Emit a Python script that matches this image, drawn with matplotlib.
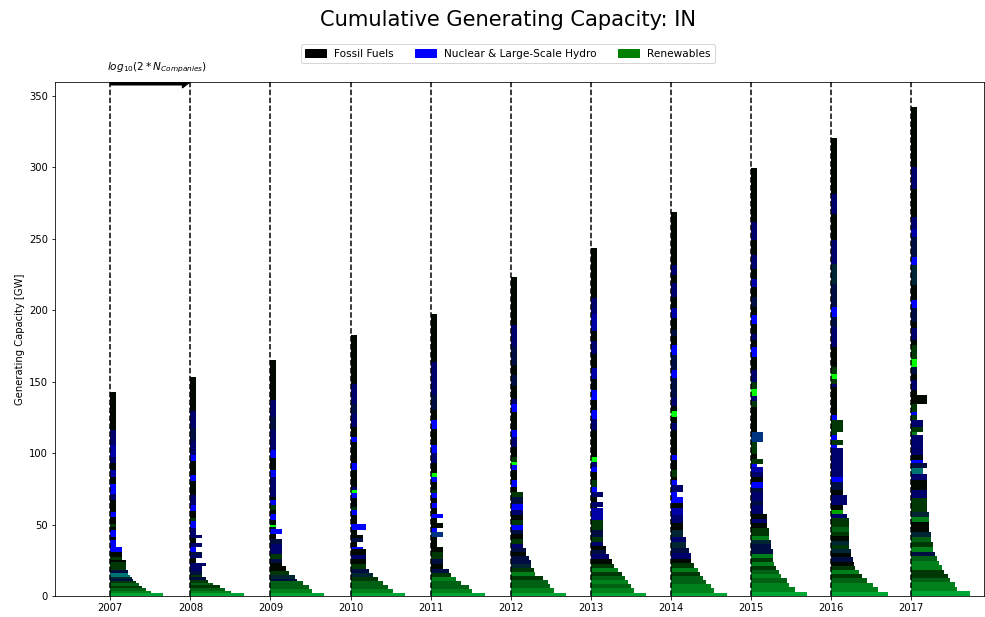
import numpy as np
import matplotlib
matplotlib.use('Agg')
import matplotlib.pyplot as plt
from matplotlib.patches import Patch

years = [2007, 2008, 2009, 2010, 2011, 2012, 2013, 2014, 2015, 2016, 2017]

# Fuel mix codes -> (nuclear & large hydro share, renewables share); rest is fossil
mix_shares = {
    'k': (0.00, 0.03),
    'g': (0.02, 0.22),
    'G': (0.08, 0.38),
    'M': (0.10, 0.50),
    'L': (0.20, 0.65),
    'H': (0.00, 0.65),
    'l': (0.00, 1.00),
    'd': (0.25, 0.05),
    'n': (0.42, 0.00),
    'B': (0.65, 0.00),
    'b': (1.00, 0.00),
    't': (0.45, 0.45),
    'e': (0.20, 0.15),
    'o': (0.50, 0.20),
}

# Each bar (bottom -> top): capacity [GW], number of companies in it, fuel mix code
cap_2007 = [1.9, 1.9, 1.6, 1.6, 1.9, 1.6, 1.4, 1.6, 1.2, 1.6, 1.9, 3.5, 2.3, 1.2, 2.3, 3.5, 3.5, 4.6,
            2.3, 4.7, 2.3, 2.3, 4.7, 3.5, 8.0, 4.7, 7.0, 4.7, 4.7, 4.7, 4.7, 8.0, 10.5, 26.8]
nco_2007 = [218, 55, 29, 20, 13, 10, 7, 6, 5, 4, 4, 3, 3, 3, 2, 2, 2, 1,
            1, 1, 1, 1, 1, 1, 1, 1, 1, 1, 1, 1, 1, 1, 1, 1]
mix_2007 = "LMGgGgdettdggkgkbb" "kbkgkbknbkBknBnk"

cap_2008 = [1.9, 1.9, 1.9, 1.9, 1.8, 1.8, 1.9, 1.8, 2.3, 3.5, 2.3, 3.5, 2.3, 2.3, 3.5, 2.3, 4.0, 1.9,
            4.7, 4.7, 2.3, 4.7, 4.7, 7.0, 9.3, 4.7, 9.3, 4.7, 9.3, 9.3, 11.6, 24.0]
nco_2008 = [240, 55, 26, 15, 7, 4, 3, 2, 2, 2, 3, 1, 2, 2, 1, 2, 1, 2,
            1, 1, 1, 1, 1, 1, 1, 1, 1, 1, 1, 1, 1, 1]
mix_2008 = "LMGgGgdg" "dnnkndbnkn" "nbgkbnkbkbndnk"

cap_2009 = [2.3, 2.3, 3.0, 3.0, 1.6, 2.3, 3.0, 3.3, 2.6, 2.8, 3.5, 3.5, 3.5, 3.5, 3.0, 3.5,
            1.6, 1.2, 3.5, 4.7, 2.3, 3.5, 3.5, 2.3, 14.0, 4.7, 8.2, 5.8, 14.0, 9.3, 11.6, 28.4]
nco_2009 = [250, 60, 40, 22, 11, 8, 4, 3, 2, 2, 2, 2, 2, 2, 1, 2,
            1, 1, 1, 1, 1, 1, 1, 1, 1, 1, 1, 1, 1, 1, 1, 1]
mix_2009 = "LMGGdegkkdgnndkb" "dlkbkgbknbkbndnk"

cap_2010 = [2.3, 2.3, 3.0, 3.0, 2.8, 2.8, 3.0, 3.5, 3.5, 2.8, 3.7, 1.9, 3.5, 2.3, 2.3, 3.5, 4.2,
            6.3, 3.5, 2.3, 5.8, 3.5, 2.3, 2.3, 11.6, 4.7, 15.0, 3.5, 7.0, 9.3, 7.0, 14.0, 34.0]
nco_2010 = [250, 65, 36, 22, 12, 7, 4, 3, 3, 3, 3, 2, 1, 2, 2, 1, 3,
            1, 1, 1, 1, 1, 1, 1, 1, 1, 1, 1, 1, 1, 1, 1, 1]
mix_2010 = "LMGGgedgknkbkdkkb" "kbgkblnkbkbkndnk"

cap_2011 = [2.3, 2.3, 3.0, 3.0, 2.8, 2.8, 3.0, 3.5, 3.5, 4.7, 3.5, 4.7, 1.9, 4.0, 2.3, 3.5, 3.5, 2.8,
            4.2, 3.5, 3.5, 3.5, 2.3, 5.8, 3.5, 2.3, 7.0, 7.0, 5.8, 11.6, 5.8, 7.0, 10.5, 10.5, 12.8, 33.4]
nco_2011 = [260, 60, 40, 16, 9, 5, 4, 2, 2, 2, 2, 1, 1, 2, 1, 2, 1, 2,
            1, 1, 1, 1, 1, 1, 1, 1, 1, 1, 1, 1, 1, 1, 1, 1, 1, 1]
mix_2011 = "LMGGMgdkdgkkkobkkb" "kbkbgkblknbkbkdnnk"

cap_2012 = [2.3, 3.0, 3.0, 2.8, 2.8, 3.0, 3.0, 2.8, 2.3, 2.8, 3.0, 3.0, 2.8, 3.5, 3.5, 2.8, 3.0, 3.5,
            3.5, 3.5, 4.7, 4.7, 3.5,
            3.5, 4.7, 7.0, 3.5, 2.3, 3.5, 7.0, 7.0, 4.7, 12.8, 5.8, 3.5, 9.0, 7.3, 7.0, 12.6, 15.4, 34.0]
nco_2012 = [290, 70, 45, 36, 20, 8, 7, 5, 5, 4, 3, 3, 2, 2, 2, 2, 2, 2, 2, 2, 2, 2, 2,
            1, 1, 1, 1, 1, 1, 1, 1, 1, 1, 1, 1, 1, 1, 1, 1, 1, 1]
mix_2012 = "LMGGgMgeddkdngkdbgknbdg" "kbkblgknbkbnkdkdnk"

cap_2013 = [2.3, 3.0, 3.0, 2.8, 2.8, 3.0, 3.0, 2.8, 3.5, 3.0, 2.8, 2.8, 3.0, 3.5, 4.7, 3.5, 3.5, 8.2,
            1.2, 3.5, 3.5, 3.5,
            3.5, 4.7, 5.8, 3.5, 3.5, 3.5, 18.6, 8.0, 5.8, 7.0, 7.0, 8.0, 8.0, 9.3, 9.3, 7.0, 11.9, 11.4, 35.0]
nco_2013 = [300, 75, 52, 36, 25, 18, 12, 7, 6, 4, 3, 3, 2, 2, 2, 2, 2, 2, 1, 2, 1, 2,
            1, 1, 1, 1, 1, 1, 1, 1, 1, 1, 1, 1, 1, 1, 1, 1, 1, 1, 1]
mix_2013 = "LMGMGgMgkndkngdggBknkn" "bgkbnlknbkbkBknkBnk"

cap_2014 = [2.3, 3.0, 3.0, 2.8, 2.8, 3.0, 3.0, 3.3, 3.0, 4.0, 3.7, 4.0, 3.5, 4.7, 4.7, 5.8, 4.7, 3.5,
            4.7, 3.5, 4.7,
            3.5, 2.3, 4.7, 7.0, 3.5, 17.5, 4.7, 4.2, 4.0, 3.5, 5.8, 14.0, 5.8, 10.5, 7.0, 5.8, 4.7, 8.4,
            7.0, 7.7, 9.8, 5.6, 7.0, 37.0]
nco_2014 = [310, 70, 48, 27, 20, 14, 12, 7, 5, 5, 4, 3, 3, 2, 2, 2, 2, 2, 2, 1, 2,
            1, 1, 1, 1, 1, 1, 1, 1, 1, 1, 1, 1, 1, 1, 1, 1, 1, 1, 1, 1, 1, 1, 1, 1]
mix_2014 = "LMMGGgMgkndeneknBkbbn" "bkgkbknklkndbdbkdkBknknk"

cap_2015 = [3.0, 3.5, 2.8, 3.0, 3.0, 2.8, 3.0, 2.8, 3.0, 2.8, 3.5, 3.0, 2.8, 2.8, 3.0, 3.0, 3.3, 3.0,
            3.0, 3.3, 3.0, 3.0, 2.8, 3.5, 3.0, 4.0, 3.5, 3.5, 3.5, 2.3, 3.5, 3.5,
            8.0, 7.0, 17.5, 4.7, 3.5, 4.7, 4.7, 8.2, 9.3, 7.0, 4.7, 4.7, 7.0, 5.8, 5.8, 7.0, 7.0, 5.8,
            7.0, 9.3, 10.5, 12.8, 38.0]
nco_2015 = [330, 80, 42, 30, 16, 12, 9, 7, 6, 6, 6, 5, 5, 4, 4, 4, 3, 3, 3, 2, 2, 2, 2, 2, 2, 2, 2,
            2, 2, 1, 2, 1,
            1, 2, 1, 1, 1, 1, 1, 1, 1, 1, 1, 1, 1, 1, 1, 1, 1, 1, 1, 1, 1, 1, 1]
mix_2015 = "LMMGMGgMgMddeMggknknndnndbknBbgk" "gokgnlgnkbknkbkdkBknknk"

cap_2016 = [3.0, 3.5, 2.8, 3.0, 3.0, 2.8, 3.0, 3.0, 3.0, 2.8, 2.8, 3.0, 3.0, 3.3, 3.0, 3.0, 3.3, 3.0,
            3.0, 2.8, 3.5, 3.0, 4.0, 3.5, 2.3, 3.5, 3.5, 3.5, 3.5, 3.5, 3.5,
            5.8, 2.3, 3.5, 3.5, 2.3, 8.2, 3.5, 19.8, 2.3, 3.5, 3.5, 4.7, 14.0, 14.0, 7.0, 7.0, 16.2,
            14.0, 16.3, 18.6, 14.0, 39.0]
nco_2016 = [350, 105, 60, 30, 18, 13, 8, 7, 6, 5, 5, 4, 4, 4, 4, 4, 4, 4, 3, 2, 2, 3, 3, 2, 2, 2,
            2, 2, 2, 2, 2,
            2, 1, 2, 1, 1, 2, 1, 1, 1, 1, 1, 1, 1, 1, 1, 1, 1, 1, 1, 1, 1, 1]
mix_2016 = "LMMGgMgkdkegekgGggnHknnkddbnnnn" "nbgbggbknglgkndbdenknk"

cap_2017 = [3.7, 2.8, 3.0, 2.8, 3.0, 2.8, 3.5, 2.8, 3.5, 3.0, 3.5, 3.5, 3.5, 3.5, 3.5, 3.5, 3.5, 3.5,
            3.5, 5.8, 5.8, 7.0, 4.2, 4.0, 3.5, 2.3, 3.5, 5.8, 8.2, 2.3, 3.5, 4.7, 3.5, 2.3, 2.3, 3.5,
            5.8, 3.5, 7.0,
            4.7, 4.7, 5.8, 9.3, 3.5, 8.2, 4.7, 9.3, 5.8, 10.5, 14.0, 5.8, 14.0, 5.8, 8.2, 19.8, 15.1, 42.0]
nco_2017 = [440, 100, 75, 45, 35, 23, 18, 12, 10, 8, 6, 6, 5, 5, 4, 4, 4, 4, 3, 3, 3, 3, 3, 2, 3,
            2, 2, 2, 2, 1, 2, 2, 1, 1, 1, 1, 3, 1, 1,
            1, 1, 1, 1, 1, 1, 1, 1, 1, 1, 1, 1, 1, 1, 1, 1, 1, 1]
mix_2017 = "LMMGggMMGdMgGekkMeggnkntdbknnMgngbggkkn" "kdlgknkdbkebdBnknk"

data = {
    2007: (cap_2007, nco_2007, mix_2007),
    2008: (cap_2008, nco_2008, mix_2008),
    2009: (cap_2009, nco_2009, mix_2009),
    2010: (cap_2010, nco_2010, mix_2010),
    2011: (cap_2011, nco_2011, mix_2011),
    2012: (cap_2012, nco_2012, mix_2012),
    2013: (cap_2013, nco_2013, mix_2013),
    2014: (cap_2014, nco_2014, mix_2014),
    2015: (cap_2015, nco_2015, mix_2015),
    2016: (cap_2016, nco_2016, mix_2016),
    2017: (cap_2017, nco_2017, mix_2017),
}

# bar width in years per decade of log10(2*N)
x_scale = 0.25

fig = plt.figure(figsize=(985 / 72, 617 / 72), dpi=72)
ax = fig.add_axes([55 / 985, 21 / 617, 929 / 985, 514 / 617])

for yr in years:
    caps, ncos, mix = data[yr]
    assert len(caps) == len(ncos) == len(mix), yr
    caps = np.array(caps)
    bottoms = np.concatenate([[0], np.cumsum(caps)[:-1]])
    widths = x_scale * np.log10(2 * np.array(ncos))
    colors = [(0, mix_shares[c][1], mix_shares[c][0]) for c in mix]
    ax.bar(yr, caps, width=widths, bottom=bottoms, align='edge', color=colors, linewidth=0)
    ax.axvline(yr, color='k', linestyle='--', linewidth=1.5)

ytop = 359.5
ax.set_xlim(2006.31, 2017.91)
ax.set_ylim(0, ytop)
ax.set_xticks(years)

# scale arrow
ax.arrow(2007, ytop, 1, 0, width=4.2, head_width=8.4, head_length=0.1,
         length_includes_head=True, color='k')
ax.text(2007.59, 369.5, r'$log_{10}(2*N_{Companies})$', ha='center', va='center', fontsize=10.5)

ax.set_ylabel('Generating Capacity [GW]')

handles = [Patch(color='black', label='Fossil Fuels'),
           Patch(color='blue', label='Nuclear & Large-Scale Hydro'),
           Patch(color='green', label='Renewables')]
ax.legend(handles=handles, loc='lower center', bbox_to_anchor=(0.4876, 1.027), ncol=3, fontsize=10.5)

fig.text(508 / 985, 1 - 20 / 617, 'Cumulative Generating Capacity: IN', ha='center', va='center',
         fontsize=21)

fig.savefig('out.png', dpi=72)
